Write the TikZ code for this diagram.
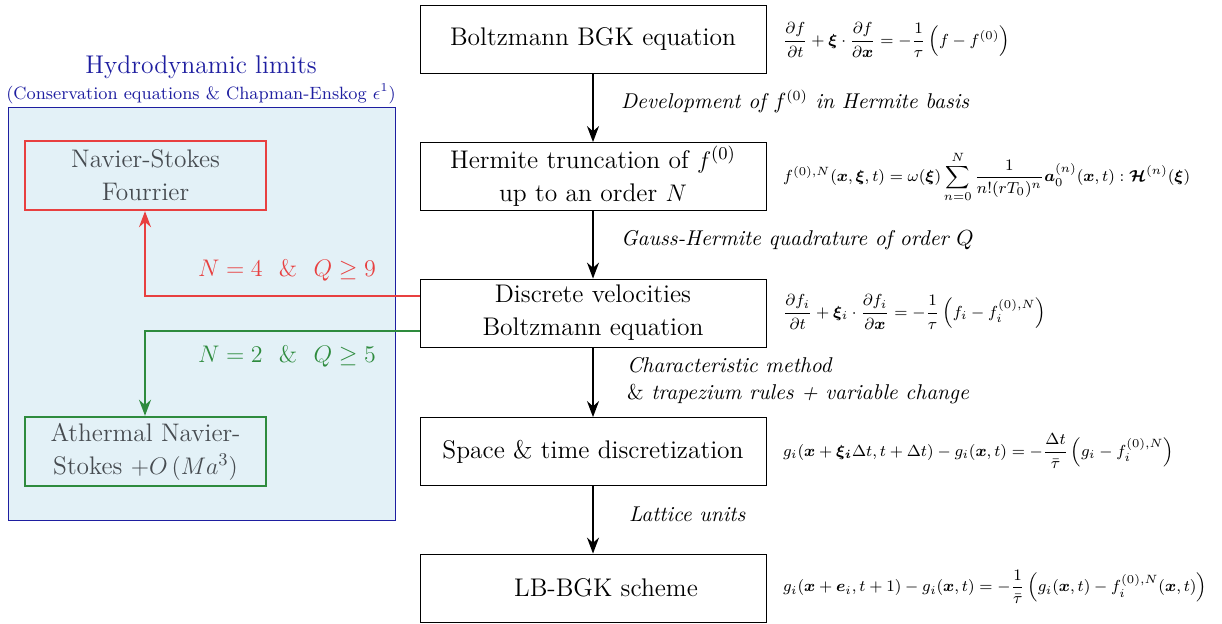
\documentclass[tikz,border=0pt]{standalone}
\usepackage{amsmath,amssymb,bm}
\usetikzlibrary{arrows.meta}
\definecolor{hblue}{RGB}{30,30,160}
\definecolor{hfill}{RGB}{227,241,247}
\definecolor{hred}{RGB}{232,64,64}
\definecolor{hgreen}{RGB}{46,139,62}
\definecolor{hgray}{RGB}{70,75,80}
\tikzset{
  stepbox/.style={draw, minimum width=173pt, minimum height=34pt, inner sep=0pt, font=\fontsize{12.75}{16.5}\selectfont, align=center},
  limbox/.style={draw, line width=1.2pt, minimum width=120.5pt, minimum height=34.5pt, inner sep=0pt, font=\fontsize{12.7}{16.5}\selectfont, align=center, text=hgray},
  flow/.style={-{Stealth[length=8pt,width=6pt]}, thick},
  lab/.style={anchor=west, font=\fontsize{10.7}{13.5}\selectfont\itshape},
  eqn/.style={anchor=west},
  condlab/.style={font=\fontsize{12.5}{15}\selectfont, anchor=east},
}
\begin{document}
\begin{tikzpicture}[x=0.5pt,y=-0.5pt]
\useasboundingbox (0,0) rectangle (1222,624);
% left panel
\node[draw=hblue, fill=hfill, minimum width=193.5pt, minimum height=206.5pt, inner sep=0pt, anchor=north west] (panel) at (8,107) {};
\node[text=hblue, font=\fontsize{12.8}{15}\selectfont] (title) at (201,67) {Hydrodynamic limits};
\node[text=hblue, font=\fontsize{8.9}{11}\selectfont] (subtitle) at (201,94) {(Conservation equations \& Chapman-Enskog $\epsilon^1$)};
\node[limbox, draw=hred] (ns) at (145.5,175.5) {Navier-Stokes\\Fourrier};
\node[limbox, draw=hgreen] (ans) at (145.5,451.5) {Athermal Navier-\\Stokes $+O\,(Ma^3)$};
% main column
\node[stepbox] (b1) at (593,39) {Boltzmann BGK equation};
\node[stepbox] (b2) at (593,176.5) {Hermite truncation of $f^{(0)}$\\up to an order $N$};
\node[stepbox] (b3) at (593,313) {Discrete velocities\\Boltzmann equation};
\node[stepbox] (b4) at (593,451.5) {Space \& time discretization};
\node[stepbox] (b5) at (593,588) {\hspace*{13pt}LB-BGK scheme};
\draw[flow] (b1) -- (b2);
\draw[flow] (b2) -- (b3);
\draw[flow] (b3) -- (b4);
\draw[flow] (b4) -- (b5);
\node[lab] (l1) at (614,101) {Development of $f^{(0)}$ in Hermite basis};
\node[lab] (l2) at (614,240) {Gauss-Hermite quadrature of order $Q$};
\node[lab, align=left] (l3) at (620,381) {Characteristic method\\\textup{\&} trapezium rules + variable change};
\node[lab] (l4) at (622,514) {Lattice units};
% equations
\node[eqn, font=\fontsize{8.5}{10}\selectfont] (e1) at (776,40) {$\dfrac{\partial f}{\partial t}+\bm{\xi}\cdot\dfrac{\partial f}{\partial \bm{x}}=-\dfrac{1}{\tau}\left(f-f^{(0)}\vphantom{f_i^{(0),N}}\right)$};
\node[eqn, font=\fontsize{7.95}{9.5}\selectfont] (e2) at (776,177) {$f^{(0),N}(\bm{x},\bm{\xi},t)=\omega(\bm{\xi})\displaystyle\sum_{n=0}^{N}\frac{1}{n!(rT_0)^n}\bm{a}_0^{(n)}(\bm{x},t):\bm{\mathcal{H}}^{(n)}(\bm{\xi})$};
\node[eqn, font=\fontsize{8.5}{10}\selectfont] (e3) at (776,312) {$\dfrac{\partial f_i}{\partial t}+\bm{\xi}_i\cdot\dfrac{\partial f_i}{\partial \bm{x}}=-\dfrac{1}{\tau}\left(f_i-f_i^{(0),N}\right)$};
\node[eqn, font=\fontsize{8.1}{9.5}\selectfont] (e4) at (776,451) {$g_i(\bm{x}+\bm{\xi_i}\Delta t,t+\Delta t)-g_i(\bm{x},t)=-\dfrac{\Delta t}{\bar{\tau}}\left(g_i-f_i^{(0),N}\right)$};
\node[eqn, font=\fontsize{8.1}{9.5}\selectfont] (e5) at (776,587) {$g_i(\bm{x}+\bm{e}_i,t+1)-g_i(\bm{x},t)=-\dfrac{1}{\bar{\tau}}\left(g_i(\bm{x},t)-f_i^{(0),N}(\bm{x},t)\right)$};
% limit connectors
\coordinate (rc) at (145,296);
\coordinate (gc) at (145,331);
\draw[hred, thick, -{Stealth[length=8pt,width=6pt]}] (b3.west |- rc) -- (rc) -- (ns.south -| rc);
\draw[hgreen, thick, -{Stealth[length=8pt,width=6pt]}] (b3.west |- gc) -- (gc) -- (ans.north -| gc);
\node[condlab, text=hred] (rl) at (383,271) {$N=4~~\&~~Q\geq 9$};
\node[condlab, text=hgreen] (gl) at (383,357) {$N=2~~\&~~Q\geq 5$};
\end{tikzpicture}
\end{document}
